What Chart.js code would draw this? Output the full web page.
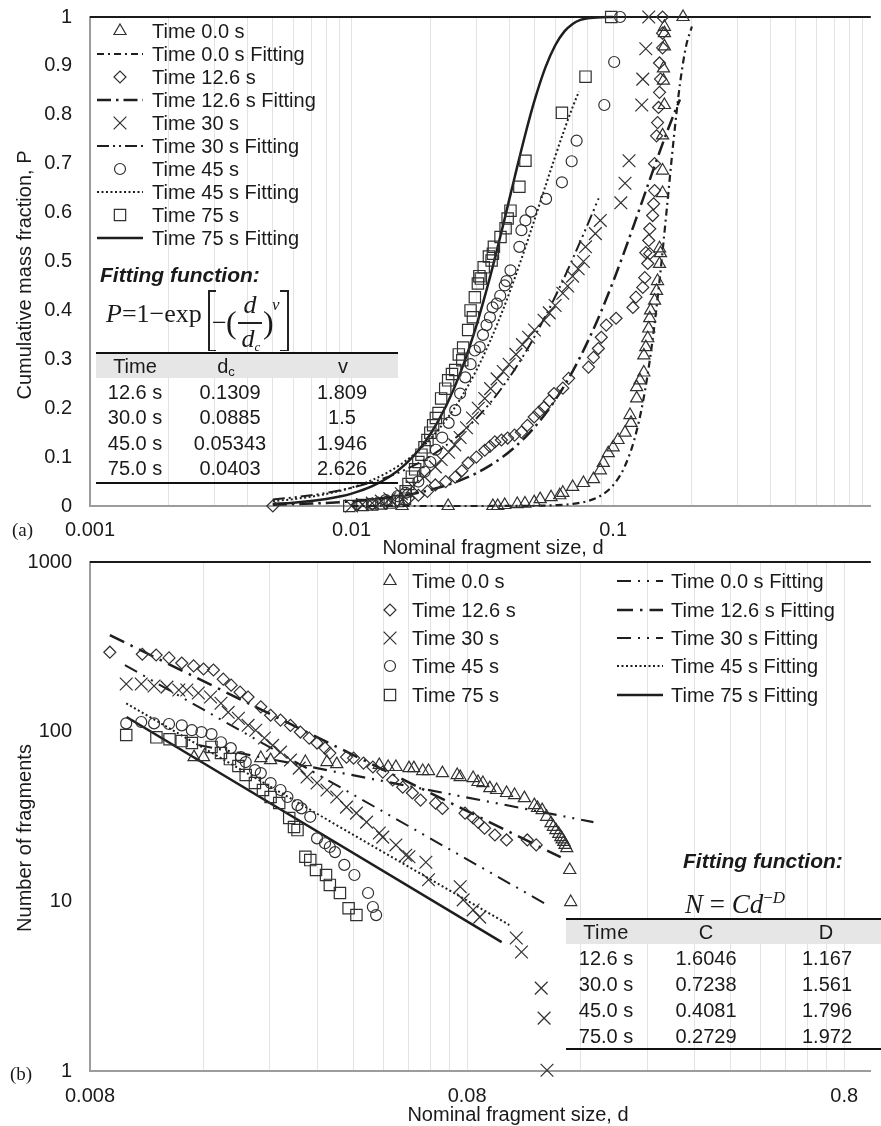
<!DOCTYPE html>
<html><head><meta charset="utf-8">
<script src="https://cdn.jsdelivr.net/npm/chart.js@4.4.1/dist/chart.umd.min.js"></script>
<style>
html,body{margin:0;padding:0;background:#fff;}
#wrap{position:relative;width:881px;height:1126px;overflow:hidden;font-family:'Liberation Sans',Arial,Helvetica,sans-serif;color:#1a1a1a;}
canvas{position:absolute;left:0;}
#overlay{position:absolute;left:0;top:0;width:881px;height:1126px;pointer-events:none;}
</style></head><body>
<div id="wrap">
<canvas id="cTop" width="881" height="573" style="top:-13px"></canvas>
<canvas id="cBot" width="881" height="594" style="top:532px"></canvas>
<div id="overlay"></div>
</div>
<script>
// ================= (a) Cumulative mass fraction =================
const aXLabels = [0.001, 0.01, 0.1];
const aGridMult = [1,2,3,4,5,6,7,8,9];

const a_t0_d = [0.0156,0.0234,0.0347,0.0362,0.0385,0.043,0.046,0.0499,0.0526,0.0579,0.0625,0.0642,0.070,0.077,0.0841,0.0893,0.0917,0.0958,0.100,0.1044,0.111,0.116,0.117,0.123,0.123,0.1266,0.131,0.131,0.1333,0.1356,0.1368,0.138,0.139,0.144,0.1465,0.1478,0.1504,0.1517,0.1504,0.1545,0.1545,0.1545,0.157,0.1557,0.1557,0.157,0.157,0.157,0.185];
const a_t0_P = [0,0,0,0,0.002,0.004,0.005,0.008,0.014,0.018,0.022,0.027,0.039,0.047,0.055,0.073,0.088,0.108,0.12,0.135,0.15,0.186,0.17,0.22,0.243,0.257,0.273,0.308,0.325,0.343,0.363,0.384,0.40,0.42,0.44,0.46,0.495,0.517,0.527,0.64,0.686,0.758,0.82,0.87,0.895,0.94,0.967,0.98,1.0];

const a_t12_d = [0.005,0.0105,0.012,0.0135,0.015,0.0165,0.018,0.0195,0.0209,0.0249,0.0279,0.0323,0.0353,0.0395,0.0446,0.0499,0.0544,0.0594,0.0642,0.0676,0.0805,0.0841,0.0878,0.0901,0.0941,0.1026,0.119,0.1222,0.1298,0.1321,0.1356,0.138,0.1333,0.1368,0.138,0.1416,0.1428,0.144,0.144,0.1465,0.1478,0.1491,0.1504,0.1517,0.1504,0.1545,0.1545,0.1545,0.0229,0.0264,0.030,0.0338,0.0374,0.042,0.047,0.052,0.057];
const a_t12_P = [0,0.002,0.004,0.006,0.01,0.016,0.022,0.03,0.043,0.059,0.088,0.114,0.131,0.139,0.151,0.182,0.202,0.23,0.241,0.261,0.284,0.304,0.322,0.345,0.37,0.384,0.406,0.427,0.447,0.467,0.496,0.516,0.518,0.543,0.567,0.594,0.618,0.645,0.70,0.757,0.784,0.815,0.846,0.873,0.906,0.937,0.967,1.0,0.05,0.072,0.10,0.122,0.135,0.145,0.165,0.192,0.215];

const a_t30_d = [0.01,0.011,0.012,0.013,0.014,0.0155,0.0171,0.019,0.0209,0.0235,0.026,0.029,0.0323,0.036,0.04,0.045,0.05,0.0544,0.06,0.0642,0.07,0.077,0.0784,0.0855,0.0893,0.107,0.111,0.115,0.1286,0.1298,0.1333,0.1368,0.022,0.0248,0.0275,0.0305,0.034,0.038,0.0425,0.0475,0.057,0.067,0.0735];
const a_t30_P = [0,0.003,0.006,0.01,0.015,0.025,0.04,0.06,0.08,0.11,0.14,0.18,0.22,0.26,0.29,0.33,0.36,0.38,0.41,0.435,0.47,0.50,0.53,0.557,0.584,0.62,0.66,0.706,0.82,0.873,0.935,1.0,0.095,0.125,0.16,0.2,0.24,0.275,0.31,0.345,0.395,0.45,0.485];

const a_t45_d = [0.012,0.0135,0.015,0.0161,0.018,0.02,0.0222,0.0249,0.0272,0.0296,0.0309,0.0318,0.0338,0.0346,0.0359,0.0385,0.0391,0.0405,0.0438,0.0446,0.0462,0.0486,0.0554,0.0637,0.0694,0.0725,0.0925,0.1009,0.1063,0.019,0.021,0.0235,0.026,0.0285,0.0328,0.037];
const a_t45_P = [0.005,0.012,0.02,0.027,0.05,0.09,0.14,0.196,0.263,0.318,0.325,0.35,0.386,0.406,0.414,0.451,0.46,0.482,0.53,0.564,0.584,0.602,0.628,0.662,0.705,0.747,0.82,0.908,1.0,0.07,0.115,0.17,0.23,0.29,0.37,0.43];

const a_t75_d = [0.0098,0.011,0.012,0.013,0.014,0.015,0.016,0.0161,0.017,0.018,0.019,0.02,0.021,0.0215,0.0234,0.0249,0.0265,0.0267,0.0279,0.0291,0.0296,0.0304,0.0312,0.032,0.0343,0.0347,0.035,0.0371,0.0388,0.0395,0.0405,0.0438,0.0462,0.0637,0.0784,0.0983,0.0165,0.0175,0.0185,0.0195,0.0205,0.022,0.0228,0.0242,0.0257,0.0285,0.0308,0.0335];
const a_t75_P = [0,0.002,0.003,0.005,0.007,0.01,0.015,0.03,0.06,0.09,0.12,0.15,0.18,0.19,0.257,0.278,0.298,0.324,0.36,0.386,0.427,0.455,0.465,0.488,0.502,0.516,0.53,0.55,0.568,0.588,0.604,0.653,0.706,0.804,0.878,1.0,0.045,0.075,0.105,0.135,0.165,0.22,0.24,0.27,0.31,0.4,0.47,0.51];

// fitted curves
const a_f0_d = [0.01,0.02,0.04,0.05,0.06,0.07,0.08,0.09,0.10,0.11,0.12,0.13,0.14,0.15,0.16,0.17,0.18,0.19,0.20];
const a_f0_P = [0,0,0.0001,0.0005,0.0016,0.0043,0.0102,0.0217,0.0426,0.0776,0.1325,0.2128,0.3212,0.4548,0.6025,0.7454,0.8625,0.9404,0.9805];
const a_f12_d = [0.005,0.006,0.007,0.008,0.009,0.01,0.012,0.014,0.016,0.018,0.02,0.023,0.026,0.03,0.034,0.038,0.042,0.046,0.05,0.055,0.06,0.065,0.07,0.075,0.08,0.085,0.09,0.1,0.11,0.12,0.13,0.14,0.15,0.16,0.17,0.18];
const a_f12_P = [0.0027,0.0038,0.0050,0.0063,0.0078,0.0095,0.0132,0.0174,0.0221,0.0272,0.0329,0.0421,0.0523,0.0672,0.0836,0.1012,0.1201,0.1400,0.1609,0.1880,0.2165,0.2456,0.2754,0.3059,0.3366,0.3673,0.3981,0.4590,0.5181,0.5745,0.6275,0.6767,0.7218,0.7625,0.7990,0.8313];
const a_f30_d = [0.005,0.006,0.007,0.008,0.009,0.01,0.012,0.014,0.016,0.018,0.02,0.023,0.026,0.03,0.034,0.038,0.042,0.046,0.05,0.055,0.06,0.065,0.07,0.075,0.08,0.085,0.088];
const a_f30_P = [0.0133,0.0175,0.0220,0.0268,0.0319,0.0373,0.0487,0.0610,0.0740,0.0876,0.1018,0.1241,0.1472,0.1791,0.2119,0.2453,0.2789,0.3126,0.3460,0.3874,0.4278,0.4671,0.5051,0.5416,0.5766,0.6098,0.6290];
const a_f45_d = [0.005,0.006,0.007,0.008,0.009,0.01,0.012,0.014,0.016,0.018,0.02,0.023,0.026,0.03,0.034,0.038,0.042,0.046,0.05,0.055,0.06,0.065,0.07,0.074];
const a_f45_P = [0.0099,0.0141,0.0190,0.0245,0.0308,0.0376,0.0532,0.0712,0.0912,0.1134,0.1374,0.1763,0.2183,0.2776,0.3396,0.4026,0.4653,0.5264,0.5848,0.6529,0.7144,0.7688,0.8158,0.8476];
const a_f75_d = [0.005,0.006,0.007,0.008,0.009,0.01,0.012,0.014,0.016,0.018,0.02,0.023,0.026,0.03,0.034,0.038,0.042,0.046,0.05,0.055,0.06,0.065,0.07,0.075,0.08,0.09,0.1];
const a_f75_P = [0.0042,0.0067,0.0100,0.0142,0.0193,0.0254,0.0407,0.0603,0.0846,0.1135,0.1468,0.2049,0.2712,0.3691,0.4727,0.5755,0.6719,0.7572,0.8283,0.8959,0.9418,0.9701,0.9859,0.9940,0.9976,0.9997,1.0];

const aFitTimes = ['12.6 s','30.0 s','45.0 s','75.0 s'];
const aFitDc = ['0.1309','0.0885','0.05343','0.0403'];
const aFitV = ['1.809','1.5','1.946','2.626'];

// ================= (b) Number of fragments =================
const bXLabels = [0.008, 0.08, 0.8];
const bYLabels = [1, 10, 100, 1000];

const b_t0_d = [0.0151,0.016,0.0227,0.0241,0.0298,0.034,0.0361,0.0468,0.0494,0.0518,0.0561,0.0578,0.061,0.0632,0.0688,0.0753,0.0767,0.083,0.0855,0.0881,0.0919,0.0958,0.1018,0.1069,0.1135,0.1206,0.1265,0.1335,0.1376,0.1418,0.1444,0.147,0.1497,0.1506,0.123,0.13,0.1355,0.14,0.143,0.1455];
const b_t0_N = [70.8,70.8,69.9,68.0,66.2,66.2,64.4,63.6,61.9,61.9,61.0,61.0,58.6,58.6,57.0,55.5,54.0,53.3,50.5,49.8,46.5,45.3,43.5,42.3,40.6,36.9,34.5,28.9,26.3,23.9,22.4,20.6,15.3,9.9,35.5,31.5,27.5,25,23.2,21.5];
const b_t12_d = [0.00903,0.01101,0.01198,0.01296,0.01401,0.01506,0.016,0.017,0.01805,0.01894,0.02,0.021,0.0227,0.0241,0.0256,0.0272,0.0289,0.0305,0.032,0.0336,0.0346,0.0383,0.04,0.0425,0.045,0.0478,0.0508,0.054,0.0573,0.0602,0.066,0.0688,0.079,0.083,0.0855,0.089,0.0948,0.1018,0.1155,0.122];
const b_t12_N = [294,286,283,272,254,244,234,231,204,188,171,160,140,125,117,109,99.5,91.7,85.7,80,74.8,70.8,69.9,65.3,61.9,57.8,51.9,47.1,43.5,39.5,37.9,35.3,33.1,31,29.3,27,24.6,23.0,23.0,21.5];
const b_t30_d = [0.00998,0.01094,0.01183,0.0128,0.01376,0.01445,0.0155,0.0167,0.0178,0.0186,0.0198,0.021,0.022,0.0232,0.0244,0.0256,0.0272,0.0287,0.0301,0.032,0.034,0.0361,0.0383,0.0407,0.0433,0.0468,0.0478,0.0518,0.055,0.0561,0.0622,0.0632,0.0767,0.0781,0.083,0.0864,0.108,0.1115,0.1258,0.128,0.1303];
const b_t30_N = [191,191,186,183,176,176,169,160,147,130,120,109,102,91.7,83,75.8,68,61,54,49.8,45.3,41.2,35.9,33.1,29.3,25.3,23.9,21.5,18.7,18.3,17.0,13.4,12.2,10.2,8.9,8.07,6.08,5.03,3.08,2.05,1.01];
const b_t45_d = [0.00998,0.01094,0.01183,0.01296,0.01401,0.0149,0.0158,0.0168,0.0178,0.0189,0.0201,0.0207,0.0219,0.0227,0.0241,0.0256,0.0267,0.0284,0.0291,0.0307,0.032,0.0336,0.0346,0.0357,0.0378,0.0402,0.0437,0.045,0.0459];
const b_t45_N = [112,114,112,111,109,102,99.5,96.8,86.6,80,70.8,66.2,59.4,57,49.8,45.3,41.2,36.9,35.3,31.5,23.5,22.0,20.9,19.5,16.4,14.3,11.2,9.26,8.3];
const b_t75_d = [0.00998,0.012,0.013,0.014,0.0149,0.0168,0.0178,0.0188,0.0198,0.0207,0.0219,0.023,0.0241,0.0254,0.027,0.0278,0.0284,0.0298,0.0307,0.0318,0.0338,0.0346,0.0368,0.0388,0.0407];
const b_t75_N = [95.5,92.6,90.2,88,85.7,81.3,74.8,68.9,62.8,55.5,49.8,45.3,41.2,38,31,27.4,26.3,18.3,17.5,15.3,14.3,12.5,11.2,9.1,8.3];

const b_f0_d = [0.0155,0.173];   const b_f0_N = [83.4,29.3];
const b_f12_d = [0.00903,0.1417]; const b_f12_N = [371,18.2];
const b_f30_d = [0.0099,0.128];  const b_f30_N = [247,9.77];
const b_f45_d = [0.00998,0.1035]; const b_f45_N = [147,7.25];
const b_f75_d = [0.01,0.0988];   const b_f75_N = [122,5.75];

const bFitTimes = ['12.6 s','30.0 s','45.0 s','75.0 s'];
const bFitC = ['1.6046','0.7238','0.4081','0.2729'];
const bFitD = ['1.167','1.561','1.796','1.972'];

// ================= helpers =================
const FONT = "'Liberation Sans', Arial, Helvetica, sans-serif";
const SERIF = "'Liberation Serif', 'Times New Roman', serif";
const MARK = '#303030', LINE = '#1e1e1e', TXT = '#1a1a1a';
Chart.defaults.font.family = FONT;
Chart.defaults.color = TXT;

const pts = (xs, ys) => xs.map((x, i) => ({x: x, y: ys[i]}));
function mark(label, xs, ys, style, r) {
  return {label, data: pts(xs, ys), showLine: false, pointStyle: style, pointRadius: r, pointHoverRadius: r,
    borderColor: MARK, backgroundColor: 'rgba(0,0,0,0)', pointBorderWidth: 1.2, borderWidth: 1.2, clip: false};
}
function fit(label, xs, ys, dash, w) {
  return {label, data: pts(xs, ys), showLine: true, pointRadius: 0, pointHoverRadius: 0, borderColor: LINE,
    backgroundColor: LINE, borderWidth: w, borderDash: dash, fill: false, cubicInterpolationMode: 'monotone', clip: false};
}
function drawMarker(ctx, style, x, y, r) {
  const s = Math.SQRT1_2 * r;
  ctx.beginPath();
  if (style === 'triangle') {
    ctx.moveTo(x, y - r); ctx.lineTo(x + 0.866 * r, y + 0.5 * r); ctx.lineTo(x - 0.866 * r, y + 0.5 * r); ctx.closePath();
  } else if (style === 'rectRot') {
    ctx.moveTo(x - r, y); ctx.lineTo(x, y - r); ctx.lineTo(x + r, y); ctx.lineTo(x, y + r); ctx.closePath();
  } else if (style === 'crossRot') {
    ctx.moveTo(x - s, y - s); ctx.lineTo(x + s, y + s); ctx.moveTo(x - s, y + s); ctx.lineTo(x + s, y - s);
  } else if (style === 'circle') {
    ctx.arc(x, y, r, 0, Math.PI * 2); ctx.closePath();
  } else if (style === 'rect') {
    ctx.rect(x - s, y - s, 2 * s, 2 * s);
  }
  ctx.stroke();
}
function legendPlugin(items) {
  return {id: 'customLegend', afterDraw(chart) {
    const ctx = chart.ctx; ctx.save();
    ctx.font = '20px ' + FONT; ctx.textBaseline = 'middle'; ctx.textAlign = 'left';
    items.forEach(it => {
      const ds = chart.data.datasets[it.i];
      ctx.strokeStyle = ds.borderColor;
      if (ds.showLine) {
        ctx.lineWidth = ds.borderWidth; ctx.setLineDash(ds.borderDash || []);
        ctx.beginPath(); ctx.moveTo(it.x0, it.y); ctx.lineTo(it.x1, it.y); ctx.stroke(); ctx.setLineDash([]);
      } else {
        ctx.lineWidth = ds.pointBorderWidth; drawMarker(ctx, ds.pointStyle, it.mx, it.y, ds.pointRadius);
      }
      ctx.fillStyle = TXT; ctx.fillText(ds.label, it.tx, it.y + 1);
    });
    ctx.restore();
  }};
}
function titlePlugin(items) {
  return {id: 'axisTitles', afterDraw(chart) {
    const ctx = chart.ctx; ctx.save();
    ctx.font = '20px ' + FONT; ctx.fillStyle = TXT; ctx.textAlign = 'center'; ctx.textBaseline = 'middle';
    items.forEach(t => {
      ctx.save(); ctx.translate(t.x, t.y); if (t.rot) ctx.rotate(t.rot); ctx.fillText(t.text, 0, 0); ctx.restore();
    });
    ctx.restore();
  }};
}
const topBorder = {id: 'topBorder', beforeDatasetsDraw(chart) {
  const a = chart.chartArea, ctx = chart.ctx; ctx.save();
  ctx.strokeStyle = '#1a1a1a'; ctx.lineWidth = 2; ctx.beginPath(); ctx.moveTo(a.left, a.top); ctx.lineTo(a.right, a.top); ctx.stroke();
  ctx.restore();
}};
const isLabel = (v, labels) => labels.some(l => Math.abs(l - v) / l < 1e-6);
function logTicks(bases, max) {
  const out = [];
  bases.forEach(b => aGridMult.forEach(k => { const v = Number((b * k).toPrecision(6)); if (v <= max) out.push({value: v}); }));
  return out;
}
const common = {responsive: false, devicePixelRatio: 1, animation: false, events: [],
  plugins: {legend: {display: false}, tooltip: {enabled: false}}};
const xGrid = {color: '#e3e3e3', lineWidth: 1, drawTicks: false, drawOnChartArea: true};
const axBorder = {display: true, color: '#9c9c9c', width: 2};

// ================= chart (a) =================  (canvas offset: -13 px)
const A_MAX = 0.966;
const aOff = 13;
new Chart(document.getElementById('cTop'), {
  type: 'scatter',
  data: {datasets: [
    mark('Time 0.0 s', a_t0_d, a_t0_P, 'triangle', 7),
    fit('Time 0.0 s Fitting', a_f0_d, a_f0_P, [7, 4, 2, 4], 2.2),
    mark('Time 12.6 s', a_t12_d, a_t12_P, 'rectRot', 6),
    fit('Time 12.6 s Fitting', a_f12_d, a_f12_P, [14, 5, 2.5, 5], 2.5),
    mark('Time 30 s', a_t30_d, a_t30_P, 'crossRot', 9),
    fit('Time 30 s Fitting', a_f30_d, a_f30_P, [12, 4, 2, 4, 2, 4], 2),
    mark('Time 45 s', a_t45_d, a_t45_P, 'circle', 5.5),
    fit('Time 45 s Fitting', a_f45_d, a_f45_P, [2, 2.5], 2),
    mark('Time 75 s', a_t75_d, a_t75_P, 'rect', 8),
    fit('Time 75 s Fitting', a_f75_d, a_f75_P, [], 2.5)
  ]},
  options: Object.assign({}, common, {
    layout: {padding: {top: 0, right: 0, bottom: 0, left: 0}},
    scales: {
      x: {type: 'logarithmic', min: 0.001, max: A_MAX, bounds: 'data',
        afterBuildTicks: s => { s.ticks = logTicks([0.001, 0.01, 0.1], A_MAX); },
        afterFit: s => { s.height = 54; },
        grid: xGrid, border: axBorder,
        ticks: {autoSkip: false, maxRotation: 0, padding: 12, color: TXT, font: {size: 20},
          callback: v => isLabel(v, aXLabels) ? String(v) : ''}},
      y: {type: 'linear', min: 0, max: 1,
        afterFit: s => { s.width = 90; },
        grid: {display: false, drawTicks: false}, border: axBorder,
        ticks: {stepSize: 0.1, padding: 18, color: TXT, font: {size: 20},
          callback: v => String(Number(v.toFixed(1)))}}
    }
  }),
  plugins: [topBorder,
    legendPlugin([0,1,2,3,4,5,6,7,8,9].map(i => ({i: i, y: aOff + 31 + i * 23, mx: 120, x0: 97, x1: 143, tx: 152}))),
    titlePlugin([{text: 'Cumulative mass fraction, P', x: 25, y: aOff + 275, rot: -Math.PI / 2},
                 {text: 'Nominal fragment size, d', x: 493, y: aOff + 548}])]
});

// ================= chart (b) =================  (canvas offset: 532 px)
const B_MAX = 0.941;
const bRows = [49, 78, 106, 134, 163];
new Chart(document.getElementById('cBot'), {
  type: 'scatter',
  data: {datasets: [
    mark('Time 0.0 s', b_t0_d, b_t0_N, 'triangle', 7),
    mark('Time 12.6 s', b_t12_d, b_t12_N, 'rectRot', 6),
    mark('Time 30 s', b_t30_d, b_t30_N, 'crossRot', 9),
    mark('Time 45 s', b_t45_d, b_t45_N, 'circle', 5.5),
    mark('Time 75 s', b_t75_d, b_t75_N, 'rect', 8),
    fit('Time 0.0 s Fitting', b_f0_d, b_f0_N, [14, 7, 2, 7, 2, 7], 2.2),
    fit('Time 12.6 s Fitting', b_f12_d, b_f12_N, [16, 7, 2.5, 7], 2.5),
    fit('Time 30 s Fitting', b_f30_d, b_f30_N, [14, 7, 2, 7, 2, 7], 2),
    fit('Time 45 s Fitting', b_f45_d, b_f45_N, [2, 2.5], 2),
    fit('Time 75 s Fitting', b_f75_d, b_f75_N, [], 2.5)
  ]},
  options: Object.assign({}, common, {
    layout: {padding: {top: 0, right: 0, bottom: 0, left: 0}},
    scales: {
      x: {type: 'logarithmic', min: 0.008, max: B_MAX, bounds: 'data',
        afterBuildTicks: s => { s.ticks = logTicks([0.008, 0.08, 0.8], B_MAX); },
        afterFit: s => { s.height = 55; },
        grid: xGrid, border: axBorder,
        ticks: {autoSkip: false, maxRotation: 0, padding: 13, color: TXT, font: {size: 20},
          callback: v => isLabel(v, bXLabels) ? String(v) : ''}},
      y: {type: 'logarithmic', min: 1, max: 1000, bounds: 'data',
        afterBuildTicks: s => { s.ticks = bYLabels.map(v => ({value: v})); },
        afterFit: s => { s.width = 90; },
        grid: {display: false, drawTicks: false}, border: axBorder,
        ticks: {padding: 18, color: TXT, font: {size: 20}, callback: v => String(v)}}
    }
  }),
  plugins: [topBorder,
    legendPlugin([0,1,2,3,4].map(i => ({i: i, y: bRows[i], mx: 390, tx: 412}))
      .concat([5,6,7,8,9].map(i => ({i: i, y: bRows[i - 5], x0: 617, x1: 663, tx: 671})))),
    titlePlugin([{text: 'Number of fragments', x: 25, y: 306, rot: -Math.PI / 2},
                 {text: 'Nominal fragment size, d', x: 518, y: 583}])]
});

// ================= overlay text (tables, formulas, panel labels) =================
const ov = document.getElementById('overlay');
function put(html, x, y, css, center) {
  const e = document.createElement('div'); e.innerHTML = html;
  e.style.cssText = 'position:absolute;left:' + x + 'px;top:' + y + 'px;white-space:nowrap;line-height:1;color:' + TXT +
    ';transform:' + (center ? 'translate(-50%,-50%)' : 'translateY(-50%)') + ';' + (css || '');
  ov.appendChild(e); return e;
}
function box(x, y, w, h, color) {
  const e = document.createElement('div');
  e.style.cssText = 'position:absolute;left:' + x + 'px;top:' + y + 'px;width:' + w + 'px;height:' + h + 'px;background:' + color + ';';
  ov.appendChild(e);
}
const F20 = 'font-size:20px;font-family:' + FONT + ';';
const FF = 'font-weight:bold;font-style:italic;font-size:21px;font-family:' + FONT + ';';
const S = (size) => 'font-family:' + SERIF + ';font-size:' + size + 'px;';

// panel labels
put('(a)', 12, 529, S(19));
put('(b)', 10, 1073, S(19));

// ---- table (a) ----
put('Fitting function:', 100, 274, FF);
put('<i>P</i>=1\u2212exp', 106, 314, S(26));
box(208, 290, 1.5, 61, '#222'); box(208, 290, 8, 1.5, '#222'); box(208, 349.5, 8, 1.5, '#222');
box(287, 290, 1.5, 61, '#222'); box(280, 290, 8, 1.5, '#222'); box(280, 349.5, 8, 1.5, '#222');
put('\u2212', 212, 323, S(26));
put('(', 226, 322, S(32));
put('<i>d</i>', 250, 305, S(26), true);
box(238, 322, 24, 1.5, '#222');
put('<i>d</i><i style="font-size:13px;position:relative;top:4px;">c</i>', 251, 339, S(26), true);
put(')', 263, 322, S(32));
put('<i>\u03bd</i>', 272, 304, S(17));
box(96, 352, 302, 2, '#111');
box(96, 354, 302, 24, '#e6e6e6');
put('Time', 135, 366, F20, true);
put('d<span style="font-size:13px;position:relative;top:3px;">c</span>', 226, 366, F20, true);
put('v', 343, 366, F20, true);
const aRowY = [392, 417, 443, 468];
aFitTimes.forEach((t, i) => {
  put(t, 135, aRowY[i], F20, true);
  put(aFitDc[i], 230, aRowY[i], F20, true);
  put(aFitV[i], 342, aRowY[i], F20, true);
});
box(96, 482, 302, 2, '#111');

// ---- table (b) ----
put('Fitting function:', 683, 860, FF);
put('<i>N</i> = <i>Cd</i><span style="font-size:17px;position:relative;top:-10px;">\u2212<i>D</i></span>', 685, 904, S(27));
box(566, 918, 315, 2, '#111');
box(566, 920, 315, 24, '#e6e6e6');
put('Time', 606, 932, F20 + 'letter-spacing:0.5px;', true);
put('C', 706, 932, F20, true);
put('D', 826, 932, F20, true);
const bRowY = [958, 984, 1010, 1036];
bFitTimes.forEach((t, i) => {
  put(t, 606, bRowY[i], F20, true);
  put(bFitC[i], 706, bRowY[i], F20, true);
  put(bFitD[i], 827, bRowY[i], F20, true);
});
box(566, 1048, 315, 2, '#111');
</script>
</body></html>
